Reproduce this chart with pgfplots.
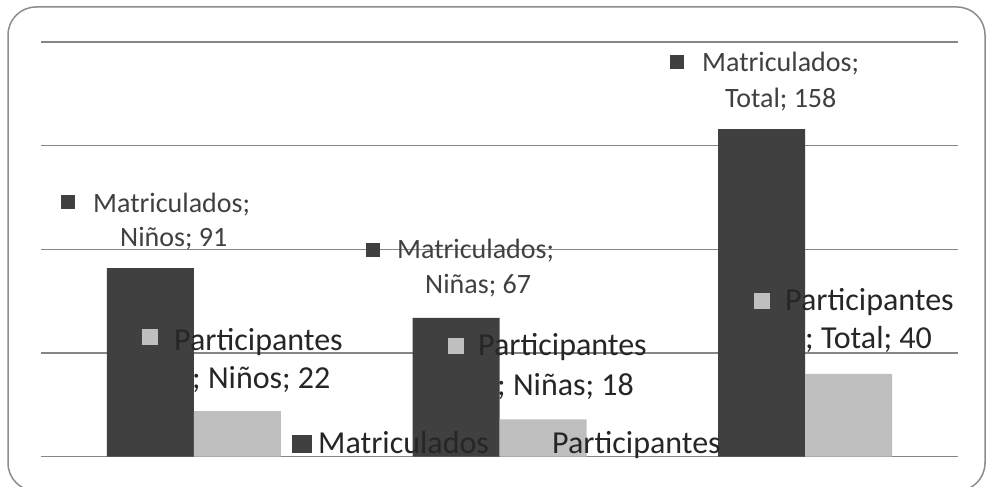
\documentclass[border=0pt]{standalone}
\usepackage{pgfplots}
\pgfplotsset{compat=1.18}
\usepackage{fontspec}
\setmainfont{Carlito}
\definecolor{darkbar}{HTML}{404040}
\definecolor{lightbar}{HTML}{BFBFBF}
\definecolor{gridc}{HTML}{868686}
\definecolor{framec}{HTML}{8C8C8C}
\definecolor{txtsmall}{HTML}{404040}
\definecolor{txtbig}{HTML}{262626}
\begin{document}
\begin{tikzpicture}[x=1pt,y=1pt]
\useasboundingbox (0,0) rectangle (988,-487);
\draw[framec, line width=1.5pt, rounded corners=28pt] (8,-7) rectangle (985,-491);
\begin{axis}[
  at={(41pt,-456.7pt)}, anchor=south west,
  scale only axis, width=917pt, height=414.7pt,
  xmin=-0.5, xmax=2.5, ymin=0, ymax=200,
  ytick={0,50,100,150,200}, xtick={0,1,2},
  xticklabels={}, yticklabels={},
  ymajorgrids, grid style={gridc, line width=1.5pt},
  axis line style={draw=none}, tick style={draw=none},
  ybar=0pt, bar width=87pt,
  clip=false,
]
\addplot[fill=darkbar, draw=none] coordinates {(0,91) (1,67) (2,158)};
\addplot[fill=lightbar, draw=none] coordinates {(0,22) (1,18) (2,40)};
\end{axis}
% data labels: Matriculados
\begin{scope}[every node/.style={inner sep=0pt, anchor=base west, text=txtsmall, font=\fontsize{28}{34}\selectfont}]
\fill[darkbar] (61,-195) rectangle (75,-209);
\node at (93,-212) {Matriculados;};
\node at (120,-246) {Niños; 91};
\fill[darkbar] (366,-243) rectangle (380,-257);
\node at (397,-258) {Matriculados;};
\node at (425,-293) {Niñas; 67};
\fill[darkbar] (670,-55) rectangle (684,-69);
\node at (702,-71) {Matriculados;};
\node at (725,-107) {Total; 158};
\end{scope}
% data labels: Participantes
\begin{scope}[every node/.style={inner sep=0pt, anchor=base west, text=txtbig, font=\fontsize{32}{38}\selectfont}]
\fill[lightbar] (142,-329) rectangle (158,-345);
\node at (174,-350) {Participantes};
\node at (192,-388) {; Niños; 22};
\fill[lightbar] (448,-338) rectangle (464,-354);
\node at (478,-355) {Participantes};
\node at (497,-395) {; Niñas; 18};
\fill[lightbar] (754,-293) rectangle (770,-309);
\node at (785,-310) {Participantes};
\node at (805,-348) {; Total; 40};
% legend
\fill[darkbar] (292,-435) rectangle (312,-453);
\node at (318,-453) {Matriculados};
\fill[lightbar] (526,-435) rectangle (546,-453);
\node at (552,-453) {Participantes};
\end{scope}
\end{tikzpicture}
\end{document}
